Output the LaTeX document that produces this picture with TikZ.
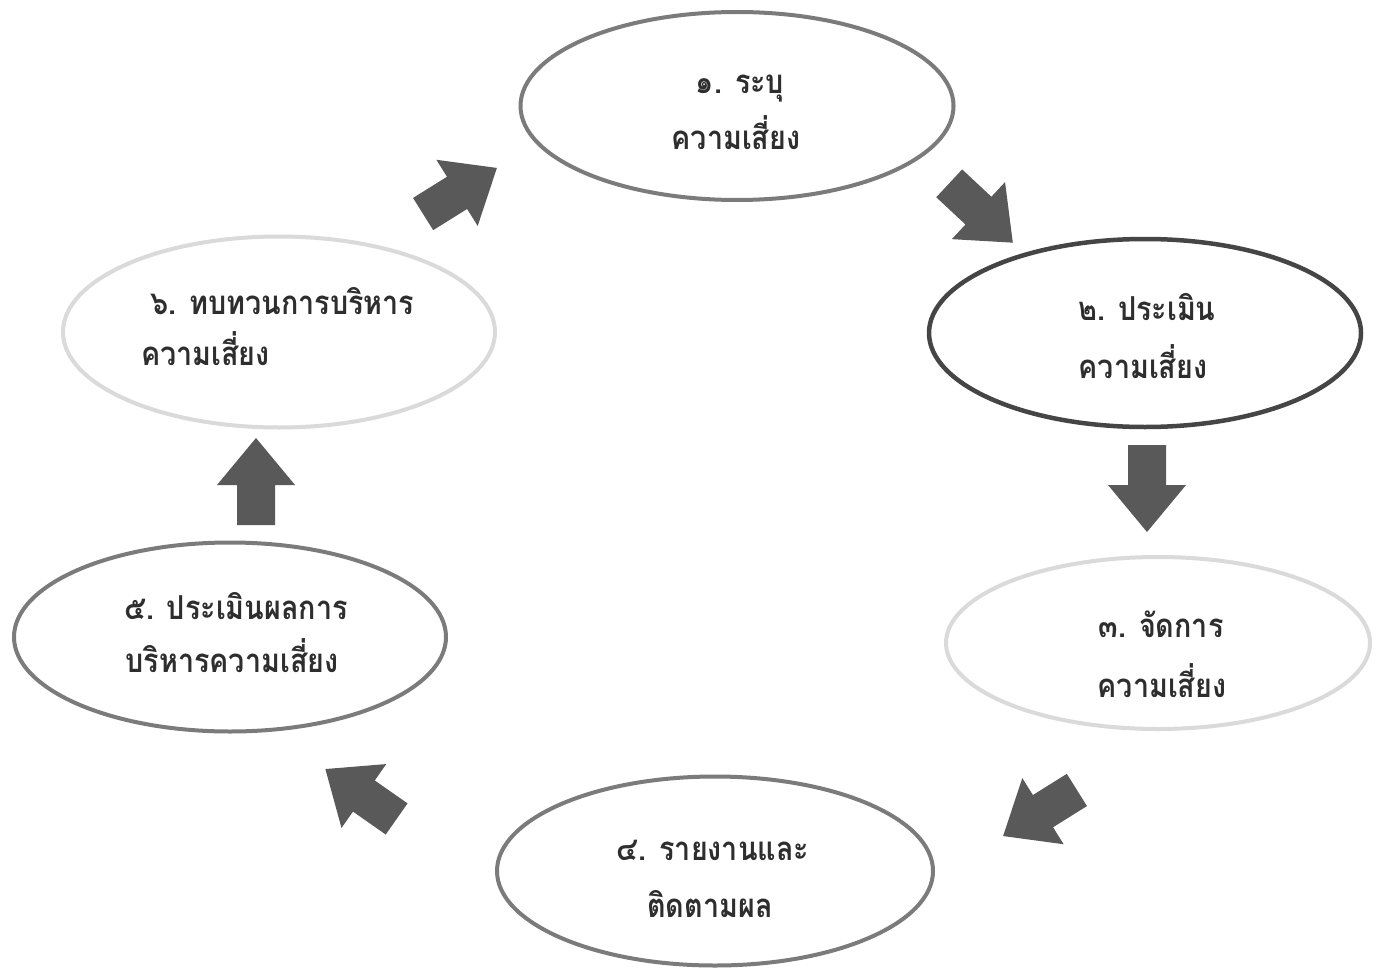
\documentclass[tikz,border=0pt]{standalone}
\usepackage{fontspec}
\usepackage{graphicx}
\newfontfamily\thaifont[Script=Thai]{Loma}
\usetikzlibrary{shapes.geometric}
\definecolor{edgemid}{HTML}{7B7B7B}
\definecolor{edgedark}{HTML}{454545}
\definecolor{edgelight}{HTML}{DADADA}
\definecolor{arrowfill}{HTML}{595959}
\definecolor{txt}{HTML}{2E2E2E}
\newcommand{\nar}[1]{\scalebox{0.87}[1]{#1}}
\tikzset{
  stage/.style={ellipse, line width=4pt, inner sep=0pt, fill=white},
  lbl/.style={anchor=base, inner sep=0pt, text=txt, font=\thaifont\bfseries\fontsize{33}{38}\selectfont},
  lblw/.style={lbl, anchor=base west},
  blockarrow/.style={fill=arrowfill},
}
\newcommand{\blockarr}[2]{%
  \fill[blockarrow, shift={#1}, rotate=#2]
    (-43.5,-19) -- (-3.5,-19) -- (-3.5,-39) -- (43.5,0) -- (-3.5,39) -- (-3.5,19) -- (-43.5,19) -- cycle;}
\begin{document}
\begin{tikzpicture}[x=1pt,y=-1pt]
\useasboundingbox (0,0) rectangle (1391,971);
\fill[white] (0,0) rectangle (1391,971);

% ellipses
\node[stage, draw=edgemid,   minimum width=433, minimum height=188] (e1) at (737,106) {};
\node[stage, draw=edgedark,  line width=4.5pt, minimum width=432, minimum height=188] (e2) at (1145,333) {};
\node[stage, draw=edgelight, minimum width=424, minimum height=172] (e3) at (1158,643) {};
\node[stage, draw=edgemid,   minimum width=436, minimum height=189] (e4) at (715,871) {};
\node[stage, draw=edgemid,   minimum width=432, minimum height=189] (e5) at (230,637) {};
\node[stage, draw=edgelight, minimum width=432, minimum height=191] (e6) at (279,332) {};

% labels
\node[lbl] (t1a) at (740,94) {\nar{๑. ระบุ}};
\node[lbl] (t1b) at (736,149) {\nar{ความเสี่ยง}};
\node[lbl] (t2a) at (1147,320) {\nar{๒. ประเมิน}};
\node[lbl] (t2b) at (1143,378) {\nar{ความเสี่ยง}};
\node[lbl] (t3a) at (1161,637) {\nar{๓. จัดการ}};
\node[lbl] (t3b) at (1162,697) {\nar{ความเสี่ยง}};
\node[lbl] (t4a) at (713,860) {\nar{๔. รายงานและ}};
\node[lbl] (t4b) at (710,917) {\nar{ติดตามผล}};
\node[lbl] (t5a) at (236,619) {\nar{๕. ประเมินผลการ}};
\node[lbl] (t5b) at (232,672) {\nar{บริหารความเสี่ยง}};
\node[lblw] (t6a) at (150,314) {\nar{๖. ทบทวนการบริหาร}};
\node[lblw] (t6b) at (141,365) {\nar{ความเสี่ยง}};

% block arrows
\blockarr{(460,191)}{32}
\blockarr{(981,213)}{-43}
\blockarr{(1147,488.5)}{-90}
\blockarr{(1040,813)}{212}
\blockarr{(361,794)}{145}
\blockarr{(256,481.5)}{90}
\end{tikzpicture}
\end{document}
